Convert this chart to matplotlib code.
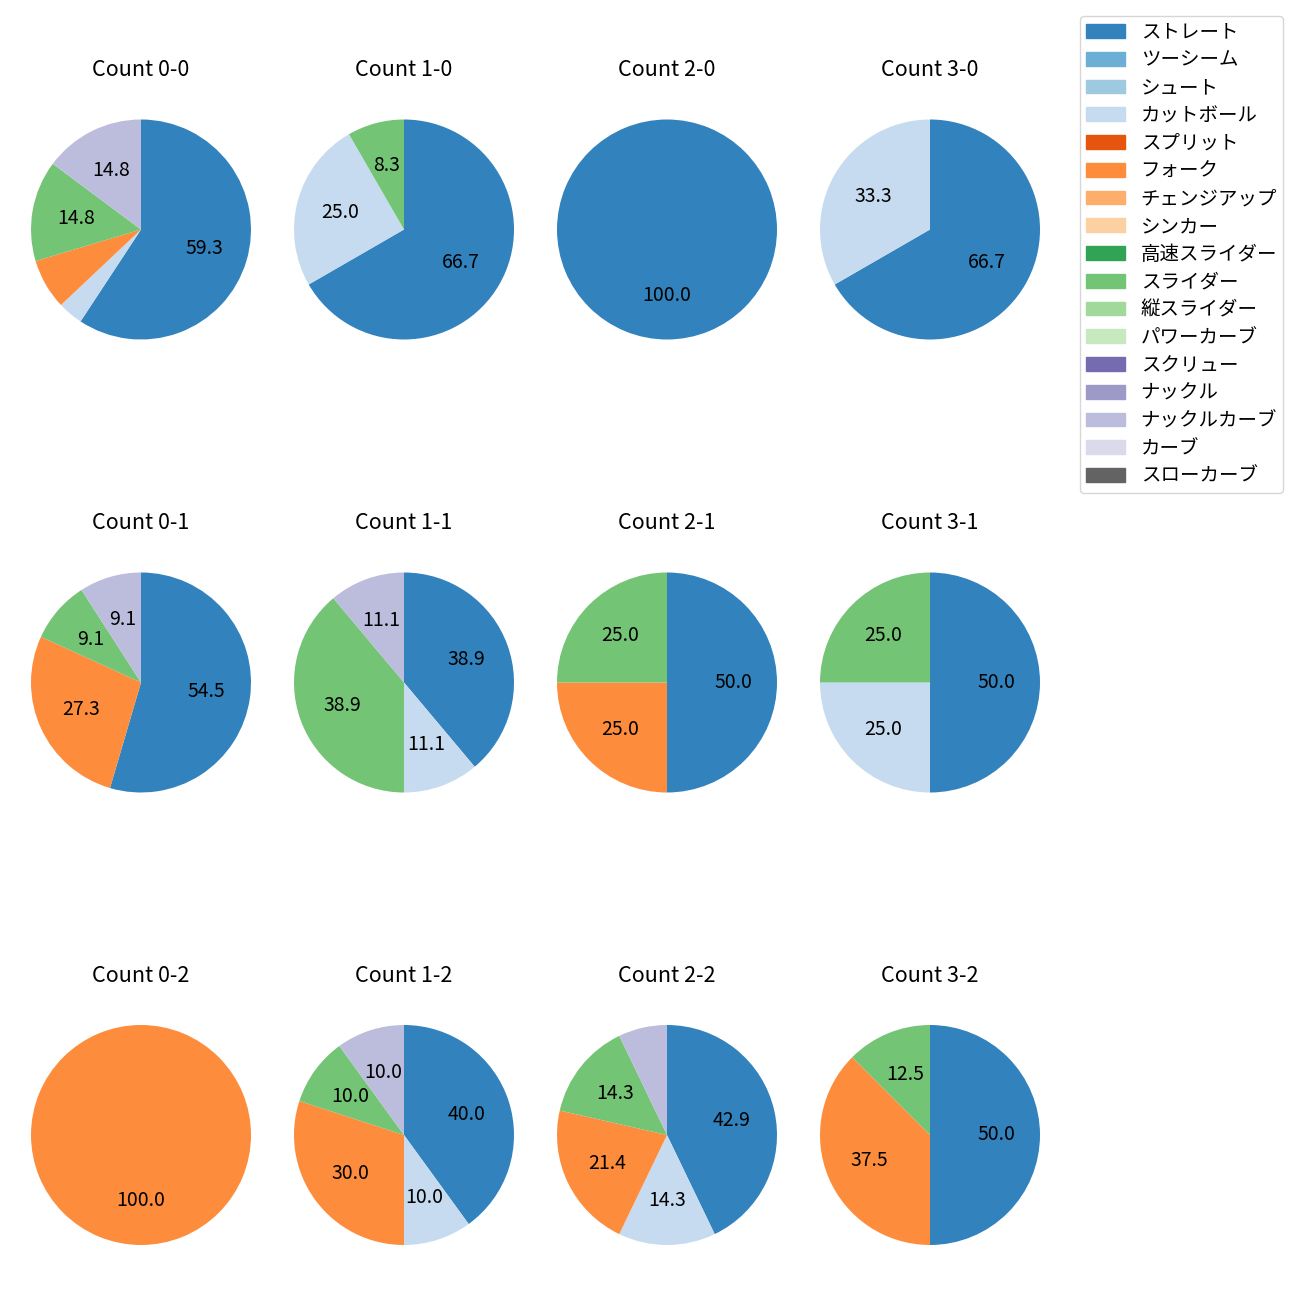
import matplotlib.pyplot as plt
from matplotlib.patches import Patch

plt.rcParams['font.family'] = ['Noto Sans CJK JP', 'DejaVu Sans']

# pitch types (legend order) and their counts per ball-strike count
pitch_types = ['ストレート', 'ツーシーム', 'シュート', 'カットボール', 'スプリット', 'フォーク',
               'チェンジアップ', 'シンカー', '高速スライダー', 'スライダー', '縦スライダー',
               'パワーカーブ', 'スクリュー', 'ナックル', 'ナックルカーブ', 'カーブ', 'スローカーブ']

counts = ['0-0', '1-0', '2-0', '3-0',
          '0-1', '1-1', '2-1', '3-1',
          '0-2', '1-2', '2-2', '3-2']

# order: ストレート, カットボール, フォーク, スライダー, ナックルカーブ
used = ['ストレート', 'カットボール', 'フォーク', 'スライダー', 'ナックルカーブ']
pitches = {
    '0-0': [16, 1, 2, 4, 4],
    '1-0': [8, 3, 0, 1, 0],
    '2-0': [1, 0, 0, 0, 0],
    '3-0': [2, 1, 0, 0, 0],
    '0-1': [6, 0, 3, 1, 1],
    '1-1': [7, 2, 0, 7, 2],
    '2-1': [2, 0, 1, 1, 0],
    '3-1': [2, 1, 0, 1, 0],
    '0-2': [0, 0, 1, 0, 0],
    '1-2': [4, 1, 3, 1, 1],
    '2-2': [6, 2, 3, 2, 1],
    '3-2': [4, 0, 3, 1, 0],
}

cmap = plt.get_cmap('tab20c')
colors = {p: cmap(i) for i, p in enumerate(pitch_types[:16])}
colors['スローカーブ'] = '#636363'

fig = plt.figure(figsize=(13, 13), dpi=100)
W, H = 1300, 1300
cx = [141, 404, 667, 930]
cy = [229.5, 682.5, 1135]
size = 275

for i, c in enumerate(counts):
    r, col = divmod(i, 4)
    ax = fig.add_axes([(cx[col] - size / 2) / W, 1 - (cy[r] + size / 2) / H, size / W, size / H])
    vals = [v for v in pitches[c] if v > 0]
    cols = [colors[p] for p, v in zip(used, pitches[c]) if v > 0]
    ax.pie(vals, colors=cols, startangle=90, counterclock=False,
           autopct=lambda p: f'{p:.1f}' if p >= 8 else '',
           textprops={'fontsize': 14})
    ax.set_title(f'Count {c}', fontsize=15.5, pad=11.5)

handles = [Patch(color=colors[p], label=p) for p in pitch_types]
fig.legend(handles=handles, loc='upper right', bbox_to_anchor=(1283 / W, 1 - 16 / H),
           borderaxespad=0, fontsize=14, labelspacing=0.347, borderpad=0.3)

fig.savefig('out.png')
